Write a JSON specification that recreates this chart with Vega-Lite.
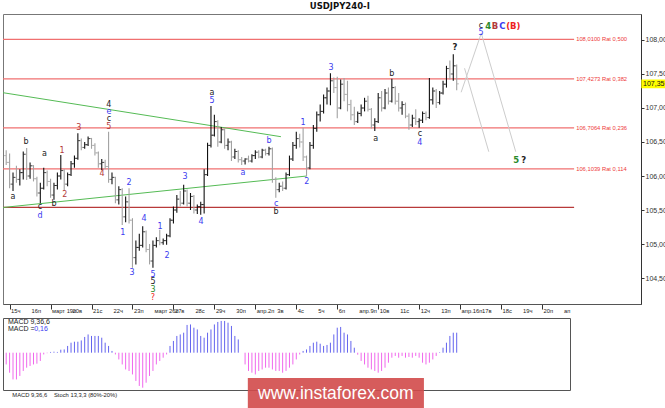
{
"$schema": "https://vega.github.io/schema/vega-lite/v6.json",
"background": "white",
"padding": {"top": 2, "left": 0, "right": 0, "bottom": 0},
"title": {"text": "USDJPY240-I", "fontSize": 8.5, "font": "DejaVu Sans", "fontWeight": "bold", "anchor": "middle", "offset": 3, "color": "#111"},
"config": {"font": "DejaVu Sans"},
"spacing": 3,
"datasets": {
"days": [
{"i":0,"d":"15ч"},{"i":6,"d":"16п"},{"i":12,"d":"март 19п"},{"i":18,"d":"20в"},{"i":24,"d":"21с"},{"i":30,"d":"22ч"},{"i":36,"d":"23п"},{"i":42,"d":"март 26п"},{"i":48,"d":"27в"},{"i":54,"d":"28с"},{"i":60,"d":"29ч"},{"i":66,"d":"30п"},{"i":72,"d":"апр.2п"},{"i":78,"d":"3в"},{"i":84,"d":"4с"},{"i":90,"d":"5ч"},{"i":96,"d":"6п"},{"i":102,"d":"апр.9п"},{"i":108,"d":"10в"},{"i":114,"d":"11с"},{"i":120,"d":"12ч"},{"i":126,"d":"13п"},{"i":132,"d":"апр.16п"},{"i":138,"d":"17в"},{"i":144,"d":"18с"},{"i":150,"d":"19ч"},{"i":156,"d":"20п"},{"i":162,"d":"ап"}
],
"bars": [
{"i":-1,"o":106.30,"h":106.38,"l":106.16,"c":106.20,"m":-0.094},
{"i":0,"o":106.20,"h":106.33,"l":105.82,"c":105.88,"m":-0.16},
{"i":1,"o":105.88,"h":106.05,"l":105.78,"c":105.98,"m":-0.214},
{"i":2,"o":105.98,"h":106.15,"l":105.90,"c":105.95,"m":-0.214},
{"i":3,"o":105.95,"h":106.10,"l":105.86,"c":106.05,"m":-0.186},
{"i":4,"o":106.05,"h":106.36,"l":105.95,"c":106.32,"m":-0.146},
{"i":5,"o":106.32,"h":106.41,"l":105.94,"c":106.00,"m":-0.12},
{"i":6,"o":106.00,"h":106.20,"l":105.96,"c":106.15,"m":-0.106},
{"i":7,"o":106.15,"h":106.16,"l":105.92,"c":105.96,"m":-0.094},
{"i":8,"o":105.96,"h":105.99,"l":105.70,"c":105.75,"m":-0.088},
{"i":9,"o":105.75,"h":105.90,"l":105.60,"c":105.82,"m":-0.066},
{"i":10,"o":105.82,"h":106.12,"l":105.80,"c":106.05,"m":-0.014},
{"i":11,"o":106.05,"h":106.08,"l":105.85,"c":105.92,"m":-0.004},
{"i":12,"o":105.92,"h":105.96,"l":105.68,"c":105.72,"m":0.006},
{"i":13,"o":105.72,"h":105.90,"l":105.65,"c":105.86,"m":0.008},
{"i":14,"o":105.86,"h":106.05,"l":105.80,"c":106.00,"m":0.006},
{"i":15,"o":106.00,"h":106.31,"l":105.95,"c":106.08,"m":0.024},
{"i":16,"o":106.08,"h":106.10,"l":105.79,"c":105.88,"m":0.026},
{"i":17,"o":105.88,"h":106.05,"l":105.85,"c":106.02,"m":0.054},
{"i":18,"o":106.02,"h":106.22,"l":106.00,"c":106.18,"m":0.08},
{"i":19,"o":106.18,"h":106.30,"l":106.12,"c":106.26,"m":0.088},
{"i":20,"o":106.26,"h":106.63,"l":106.24,"c":106.52,"m":0.088},
{"i":21,"o":106.52,"h":106.55,"l":106.38,"c":106.42,"m":0.098},
{"i":22,"o":106.42,"h":106.50,"l":106.40,"c":106.46,"m":0.126},
{"i":23,"o":106.46,"h":106.58,"l":106.44,"c":106.55,"m":0.146},
{"i":24,"o":106.55,"h":106.56,"l":106.40,"c":106.45,"m":0.134},
{"i":25,"o":106.45,"h":106.48,"l":106.30,"c":106.34,"m":0.134},
{"i":26,"o":106.34,"h":106.36,"l":106.12,"c":106.18,"m":0.134},
{"i":27,"o":106.18,"h":106.25,"l":106.09,"c":106.20,"m":0.12},
{"i":28,"o":106.20,"h":106.24,"l":106.10,"c":106.14,"m":0.08},
{"i":29,"o":106.14,"h":106.65,"l":105.90,"c":105.95,"m":0.054},
{"i":30,"o":105.95,"h":106.05,"l":105.88,"c":105.98,"m":0.014},
{"i":31,"o":105.98,"h":105.99,"l":105.60,"c":105.65,"m":-0.014},
{"i":32,"o":105.65,"h":105.85,"l":105.58,"c":105.80,"m":-0.054},
{"i":33,"o":105.80,"h":105.82,"l":105.28,"c":105.40,"m":-0.094},
{"i":34,"o":105.40,"h":105.70,"l":105.32,"c":105.62,"m":-0.134},
{"i":35,"o":105.62,"h":105.82,"l":105.30,"c":105.35,"m":-0.146},
{"i":36,"o":105.35,"h":105.38,"l":104.65,"c":104.80,"m":-0.174},
{"i":37,"o":104.80,"h":105.05,"l":104.70,"c":104.95,"m":-0.226},
{"i":38,"o":104.95,"h":105.15,"l":104.90,"c":104.98,"m":-0.266},
{"i":39,"o":104.98,"h":105.26,"l":104.95,"c":105.18,"m":-0.28},
{"i":40,"o":105.18,"h":105.20,"l":104.88,"c":104.92,"m":-0.24},
{"i":41,"o":104.92,"h":105.00,"l":104.70,"c":104.75,"m":-0.186},
{"i":42,"o":104.75,"h":105.05,"l":104.65,"c":104.98,"m":-0.146},
{"i":43,"o":104.98,"h":105.10,"l":104.95,"c":105.05,"m":-0.094},
{"i":44,"o":105.05,"h":105.21,"l":104.98,"c":105.02,"m":-0.066},
{"i":45,"o":105.02,"h":105.08,"l":104.99,"c":105.05,"m":-0.04},
{"i":46,"o":105.05,"h":105.15,"l":104.99,"c":105.12,"m":-0.014},
{"i":47,"o":105.12,"h":105.38,"l":105.10,"c":105.35,"m":0.054},
{"i":48,"o":105.35,"h":105.55,"l":105.30,"c":105.50,"m":0.094},
{"i":49,"o":105.50,"h":105.72,"l":105.46,"c":105.66,"m":0.134},
{"i":50,"o":105.66,"h":105.78,"l":105.55,"c":105.60,"m":0.146},
{"i":51,"o":105.60,"h":105.87,"l":105.58,"c":105.78,"m":0.16},
{"i":52,"o":105.78,"h":105.80,"l":105.55,"c":105.60,"m":0.222},
{"i":53,"o":105.60,"h":105.75,"l":105.50,"c":105.70,"m":0.226},
{"i":54,"o":105.70,"h":105.72,"l":105.45,"c":105.50,"m":0.2},
{"i":55,"o":105.50,"h":105.58,"l":105.44,"c":105.55,"m":0.186},
{"i":56,"o":105.55,"h":105.62,"l":105.43,"c":105.58,"m":0.134},
{"i":57,"o":105.58,"h":106.10,"l":105.45,"c":106.02,"m":0.12},
{"i":58,"o":106.02,"h":106.49,"l":106.00,"c":106.45,"m":0.16},
{"i":59,"o":106.45,"h":107.03,"l":106.42,"c":106.60,"m":0.186},
{"i":60,"o":106.60,"h":106.90,"l":106.58,"c":106.80,"m":0.226},
{"i":61,"o":106.80,"h":106.82,"l":106.43,"c":106.50,"m":0.246},
{"i":62,"o":106.50,"h":106.72,"l":106.48,"c":106.68,"m":0.254},
{"i":63,"o":106.68,"h":106.70,"l":106.40,"c":106.45,"m":0.254},
{"i":64,"o":106.45,"h":106.55,"l":106.38,"c":106.50,"m":0.24},
{"i":65,"o":106.50,"h":106.52,"l":106.22,"c":106.28,"m":0.214},
{"i":66,"o":106.28,"h":106.40,"l":106.25,"c":106.36,"m":0.134},
{"i":67,"o":106.36,"h":106.38,"l":106.20,"c":106.24,"m":0.106},
{"i":68,"o":106.24,"h":106.28,"l":106.16,"c":106.22,"m":0.0},
{"i":69,"o":106.22,"h":106.26,"l":106.17,"c":106.25,"m":-0.094},
{"i":70,"o":106.25,"h":106.30,"l":106.20,"c":106.22,"m":-0.146},
{"i":71,"o":106.22,"h":106.32,"l":106.20,"c":106.30,"m":-0.16},
{"i":72,"o":106.30,"h":106.38,"l":106.25,"c":106.35,"m":-0.174},
{"i":73,"o":106.35,"h":106.38,"l":106.26,"c":106.28,"m":-0.146},
{"i":74,"o":106.28,"h":106.40,"l":106.26,"c":106.38,"m":-0.134},
{"i":75,"o":106.38,"h":106.40,"l":106.30,"c":106.33,"m":-0.12},
{"i":76,"o":106.33,"h":106.43,"l":106.30,"c":106.40,"m":-0.12},
{"i":77,"o":106.40,"h":106.42,"l":105.90,"c":105.95,"m":-0.134},
{"i":78,"o":105.95,"h":105.98,"l":105.68,"c":105.80,"m":-0.146},
{"i":79,"o":105.80,"h":105.90,"l":105.76,"c":105.85,"m":-0.146},
{"i":80,"o":105.85,"h":105.92,"l":105.78,"c":105.82,"m":-0.16},
{"i":81,"o":105.82,"h":106.05,"l":105.80,"c":106.02,"m":-0.146},
{"i":82,"o":106.02,"h":106.30,"l":106.00,"c":106.25,"m":-0.12},
{"i":83,"o":106.25,"h":106.50,"l":106.22,"c":106.45,"m":-0.094},
{"i":84,"o":106.45,"h":106.65,"l":106.40,"c":106.55,"m":-0.054},
{"i":85,"o":106.55,"h":106.62,"l":106.42,"c":106.50,"m":-0.014},
{"i":86,"o":106.50,"h":106.71,"l":106.22,"c":106.28,"m":0.014},
{"i":87,"o":106.28,"h":106.30,"l":106.00,"c":106.12,"m":0.026},
{"i":88,"o":106.12,"h":106.50,"l":106.10,"c":106.45,"m":0.054},
{"i":89,"o":106.45,"h":106.75,"l":106.40,"c":106.70,"m":0.08},
{"i":90,"o":106.70,"h":106.95,"l":106.65,"c":106.90,"m":0.088},
{"i":91,"o":106.90,"h":107.05,"l":106.80,"c":106.95,"m":0.072},
{"i":92,"o":106.95,"h":107.20,"l":106.92,"c":107.15,"m":0.054},
{"i":93,"o":107.15,"h":107.30,"l":107.05,"c":107.25,"m":0.062},
{"i":94,"o":107.25,"h":107.51,"l":107.04,"c":107.40,"m":0.08},
{"i":95,"o":107.40,"h":107.45,"l":107.22,"c":107.30,"m":0.146},
{"i":96,"o":107.30,"h":107.46,"l":106.85,"c":107.00,"m":0.2},
{"i":97,"o":107.00,"h":107.42,"l":106.98,"c":107.35,"m":0.206},
{"i":98,"o":107.35,"h":107.44,"l":107.10,"c":107.20,"m":0.16},
{"i":99,"o":107.20,"h":107.40,"l":106.95,"c":107.05,"m":0.146},
{"i":100,"o":107.05,"h":107.12,"l":106.82,"c":106.90,"m":0.094},
{"i":101,"o":106.90,"h":107.02,"l":106.75,"c":106.80,"m":0.04},
{"i":102,"o":106.80,"h":106.95,"l":106.78,"c":106.92,"m":-0.016},
{"i":103,"o":106.92,"h":107.05,"l":106.88,"c":107.00,"m":-0.066},
{"i":104,"o":107.00,"h":107.15,"l":106.95,"c":107.10,"m":-0.094},
{"i":105,"o":107.10,"h":107.18,"l":106.95,"c":106.98,"m":-0.12},
{"i":106,"o":106.98,"h":107.00,"l":106.70,"c":106.75,"m":-0.134},
{"i":107,"o":106.75,"h":106.85,"l":106.66,"c":106.80,"m":-0.146},
{"i":108,"o":106.80,"h":107.22,"l":106.78,"c":107.15,"m":-0.16},
{"i":109,"o":107.15,"h":107.25,"l":106.95,"c":107.00,"m":-0.146},
{"i":110,"o":107.00,"h":107.28,"l":106.98,"c":107.22,"m":-0.12},
{"i":111,"o":107.22,"h":107.30,"l":107.05,"c":107.10,"m":-0.08},
{"i":112,"o":107.10,"h":107.43,"l":107.08,"c":107.30,"m":-0.04},
{"i":113,"o":107.30,"h":107.32,"l":107.05,"c":107.10,"m":-0.026},
{"i":114,"o":107.10,"h":107.22,"l":106.95,"c":107.00,"m":-0.04},
{"i":115,"o":107.00,"h":107.10,"l":106.90,"c":107.05,"m":-0.026},
{"i":116,"o":107.05,"h":107.08,"l":106.85,"c":106.88,"m":-0.04},
{"i":117,"o":106.88,"h":106.92,"l":106.68,"c":106.75,"m":-0.034},
{"i":118,"o":106.75,"h":106.90,"l":106.72,"c":106.85,"m":-0.04},
{"i":119,"o":106.85,"h":106.98,"l":106.75,"c":106.80,"m":-0.026},
{"i":120,"o":106.80,"h":106.85,"l":106.71,"c":106.82,"m":-0.04},
{"i":121,"o":106.82,"h":106.95,"l":106.78,"c":106.92,"m":-0.08},
{"i":122,"o":106.92,"h":106.95,"l":106.82,"c":106.86,"m":-0.094},
{"i":123,"o":106.86,"h":107.44,"l":106.84,"c":107.12,"m":-0.08},
{"i":124,"o":107.12,"h":107.30,"l":107.05,"c":107.25,"m":-0.054},
{"i":125,"o":107.25,"h":107.28,"l":107.00,"c":107.08,"m":-0.026},
{"i":126,"o":107.08,"h":107.25,"l":107.05,"c":107.22,"m":0.004},
{"i":127,"o":107.22,"h":107.40,"l":107.20,"c":107.35,"m":0.04},
{"i":128,"o":107.35,"h":107.62,"l":107.30,"c":107.58,"m":0.08},
{"i":129,"o":107.58,"h":107.70,"l":107.42,"c":107.50,"m":0.134},
{"i":130,"o":107.50,"h":107.79,"l":107.40,"c":107.62,"m":0.16},
{"i":131,"o":107.62,"h":107.64,"l":107.26,"c":107.355,"m":0.16}
],
"levels": [
{"level":108.01,"label":"108,0100 Rat 0,500","kind":"fib"},
{"level":107.4273,"label":"107,4273 Rat 0,382","kind":"fib"},
{"level":106.7064,"label":"106,7064 Rat 0,236","kind":"fib"},
{"level":106.1039,"label":"106,1039 Rat 0,114","kind":"fib"},
{"level":105.54,"label":"","kind":"base"}
],
"lines": [
{"id":"g1","kind":"trend","i":-1.934,"p":107.225},
{"id":"g1","kind":"trend","i":79.5,"p":106.578},
{"id":"g2","kind":"trend","i":-1.934,"p":105.537},
{"id":"g2","kind":"trend","i":87.1,"p":106.0},
{"id":"f1","kind":"forecast","i":132.3,"p":107.231},
{"id":"f1","kind":"forecast","i":138.2,"p":108.099},
{"id":"f1","kind":"forecast","i":148.3,"p":106.357},
{"id":"f2","kind":"forecast","i":133.3,"p":107.584},
{"id":"f2","kind":"forecast","i":140.4,"p":106.357}
],
"waves": [
{"i":1.0,"p":105.691,"t":"a","deg":"minute","note":"count"},
{"i":4.8,"p":106.50,"t":"b","deg":"minute","note":"count"},
{"i":8.9,"p":105.544,"t":"c","deg":"minute","note":"count"},
{"i":8.9,"p":105.412,"t":"d","deg":"minuette","note":"count"},
{"i":10.2,"p":106.324,"t":"a","deg":"minute","note":"count"},
{"i":13.0,"p":105.588,"t":"b","deg":"minute","note":"count"},
{"i":15.35,"p":106.368,"t":"1","deg":"minor","note":"count"},
{"i":16.2,"p":105.72,"t":"2","deg":"minor","note":"count"},
{"i":20.3,"p":106.706,"t":"3","deg":"minor","note":"count"},
{"i":27.1,"p":106.03,"t":"4","deg":"minor","note":"count"},
{"i":29.1,"p":106.72,"t":"5","deg":"minor","note":"count"},
{"i":29.1,"p":106.838,"t":"c","deg":"minute","note":"count"},
{"i":29.1,"p":106.934,"t":"e","deg":"minuette","note":"count"},
{"i":29.1,"p":107.051,"t":"4","deg":"minute","note":"count"},
{"i":33.2,"p":105.162,"t":"1","deg":"minuette","note":"count"},
{"i":35.0,"p":105.897,"t":"2","deg":"minuette","note":"count"},
{"i":35.9,"p":104.574,"t":"3","deg":"minuette","note":"count"},
{"i":39.4,"p":105.368,"t":"4","deg":"minuette","note":"count"},
{"i":42.0,"p":104.544,"t":"5","deg":"minuette","note":"count"},
{"i":42.0,"p":104.441,"t":"5","deg":"minute","note":"count"},
{"i":42.0,"p":104.324,"t":"3","deg":"intermediate","note":"count"},
{"i":42.0,"p":104.206,"t":"?","deg":"primary","note":"count"},
{"i":44.1,"p":105.25,"t":"1","deg":"minuette","note":"count"},
{"i":46.1,"p":104.824,"t":"2","deg":"minuette","note":"count"},
{"i":51.4,"p":105.985,"t":"3","deg":"minuette","note":"count"},
{"i":56.1,"p":105.324,"t":"4","deg":"minuette","note":"count"},
{"i":59.3,"p":107.221,"t":"a","deg":"minute","note":"count"},
{"i":59.3,"p":107.103,"t":"5","deg":"minuette","note":"count"},
{"i":68.4,"p":106.044,"t":"a","deg":"minuette","note":"count"},
{"i":76.0,"p":106.515,"t":"b","deg":"minuette","note":"count"},
{"i":78.1,"p":105.588,"t":"c","deg":"minuette","note":"count"},
{"i":78.1,"p":105.471,"t":"b","deg":"minute","note":"count"},
{"i":85.96,"p":106.779,"t":"1","deg":"minuette","note":"count"},
{"i":87.1,"p":105.912,"t":"2","deg":"minuette","note":"count"},
{"i":94.2,"p":107.588,"t":"3","deg":"minuette","note":"count"},
{"i":107.3,"p":106.544,"t":"a","deg":"minute","note":"count"},
{"i":112.0,"p":107.50,"t":"b","deg":"minute","note":"count"},
{"i":120.2,"p":106.618,"t":"c","deg":"minute","note":"count"},
{"i":120.2,"p":106.485,"t":"4","deg":"minuette","note":"count"},
{"i":130.5,"p":107.897,"t":"?","deg":"minute","note":"target"},
{"i":138.1,"p":108.206,"t":"c","deg":"minute","note":"count"},
{"i":140.2,"p":108.206,"t":"4","deg":"intermediate","note":"target"},
{"i":142.2,"p":108.206,"t":"B","deg":"minor","note":"target"},
{"i":144.4,"p":108.206,"t":"C","deg":"minuette","note":"target"},
{"i":147.6,"p":108.206,"t":"(B)","deg":"primary","note":"target"},
{"i":138.1,"p":108.103,"t":"5","deg":"minuette","note":"count"},
{"i":148.4,"p":106.228,"t":"5","deg":"intermediate","note":"target"},
{"i":150.6,"p":106.228,"t":"?","deg":"minute","note":"target"}
]
},
"vconcat": [
{
"width": 638,
"height": 290,
"view": {"stroke": "#777", "strokeWidth": 1},
"resolve": {"scale": {"color": "independent"}},
"layer": [
{
"data": {"name": "levels"},
"mark": {"type": "rule", "strokeWidth": 1.3},
"encoding": {
"y": {"field": "level", "type": "quantitative", "title": null, "scale": {"domain": [104.118, 108.382], "nice": false, "zero": false},
"axis": {"orient": "right", "values": [104.5, 105, 105.5, 106, 106.5, 107, 107.5, 108], "labelExpr": "replace(format(datum.value, '.3f'), '.', ',')", "tickSize": 3, "labelPadding": 1, "labelFont": "Liberation Sans", "labelFontSize": 7, "labelColor": "#333", "domainColor": "#333", "tickColor": "#333", "grid": false, "labelBaseline": "middle", "labelOverlap": false, "labelBound": false}},
"x": {"datum": -1.934, "type": "quantitative", "scale": {"domain": [-1.934, 185.0], "nice": false, "zero": false},
"axis": {"values": [0,6,12,18,24,30,36,42,48,54,60,66,72,78,84,90,96,102,108,114,120,126,132,138,144,150,156,162], "labels": false, "tickSize": 5, "tickColor": "#333", "domainColor": "#555", "grid": false, "title": null}},
"x2": {"datum": 165.4},
"color": {"field": "kind", "type": "nominal", "scale": {"domain": ["fib", "base"], "range": ["#f07070", "#b83a3a"]}, "legend": null}
}
},
{
"data": {"name": "levels"},
"transform": [{"filter": "datum.label != ''"}],
"mark": {"type": "text", "align": "left", "baseline": "middle", "fontSize": 5.8, "font": "Liberation Sans", "color": "#ee3a3a"},
"encoding": {
"y": {"field": "level", "type": "quantitative", "title": null},
"x": {"datum": 166.0},
"text": {"field": "label"}
}
},
{
"data": {"name": "days"},
"mark": {"type": "text", "align": "left", "baseline": "middle", "fontSize": 5.8, "font": "Liberation Sans", "dx": 1.5, "color": "#222"},
"encoding": {
"x": {"field": "i", "type": "quantitative", "title": null},
"y": {"datum": 104.02},
"text": {"field": "d"}
}
},
{
"data": {"name": "lines"},
"mark": {"type": "line", "strokeWidth": 1},
"encoding": {
"x": {"field": "i", "type": "quantitative", "title": null},
"y": {"field": "p", "type": "quantitative", "title": null},
"detail": {"field": "id"},
"color": {"field": "kind", "type": "nominal", "scale": {"domain": ["trend", "forecast"], "range": ["#55bb55", "#cccccc"]}, "legend": null}
}
},
{
"data": {"name": "bars"},
"mark": {"type": "rule", "strokeWidth": 1.1},
"encoding": {
"x": {"field": "i", "type": "quantitative", "title": null},
"y": {"field": "l", "type": "quantitative", "title": null},
"y2": {"field": "h"},
"color": {"condition": {"test": "datum.c >= datum.o", "value": "#111111"}, "value": "#a2a2a2"}
}
},
{
"data": {"name": "bars"},
"mark": {"type": "tick", "orient": "horizontal", "size": 2, "thickness": 1, "xOffset": -1.2},
"encoding": {
"x": {"field": "i", "type": "quantitative", "title": null},
"y": {"field": "o", "type": "quantitative", "title": null},
"color": {"condition": {"test": "datum.c >= datum.o", "value": "#111111"}, "value": "#a2a2a2"}
}
},
{
"data": {"name": "bars"},
"mark": {"type": "tick", "orient": "horizontal", "size": 2, "thickness": 1, "xOffset": 1.2},
"encoding": {
"x": {"field": "i", "type": "quantitative", "title": null},
"y": {"field": "c", "type": "quantitative", "title": null},
"color": {"condition": {"test": "datum.c >= datum.o", "value": "#111111"}, "value": "#a2a2a2"}
}
},
{
"data": {"name": "waves"},
"transform": [{"filter": "datum.note == 'count'"}],
"mark": {"type": "text", "align": "center", "baseline": "middle", "fontSize": 8},
"encoding": {
"x": {"field": "i", "type": "quantitative", "title": null},
"y": {"field": "p", "type": "quantitative", "title": null},
"text": {"field": "t"},
"color": {"field": "deg", "type": "nominal", "scale": {"domain": ["minuette", "minute", "minor", "intermediate", "primary"], "range": ["#3b3bf0", "#222222", "#b33a3a", "#2a8a2a", "#ee2222"]}, "legend": null}
}
},
{
"data": {"name": "waves"},
"transform": [{"filter": "datum.note == 'target'"}],
"mark": {"type": "text", "align": "center", "baseline": "middle", "fontSize": 8.5, "fontWeight": "bold"},
"encoding": {
"x": {"field": "i", "type": "quantitative", "title": null},
"y": {"field": "p", "type": "quantitative", "title": null},
"text": {"field": "t"},
"color": {"field": "deg", "type": "nominal", "scale": {"domain": ["minuette", "minute", "minor", "intermediate", "primary"], "range": ["#3b3bf0", "#222222", "#b33a3a", "#2a8a2a", "#ee2222"]}, "legend": null}
}
},
{
"data": {"values": [{"price": 107.355}]},
"mark": {"type": "rect", "color": "#ffff00"},
"encoding": {
"x": {"datum": 185.1},
"x2": {"datum": 196},
"y": {"datum": 107.42},
"y2": {"datum": 107.29}
}
},
{
"data": {"values": [{"price": 107.355}]},
"mark": {"type": "text", "align": "left", "baseline": "middle", "fontSize": 7, "font": "Liberation Sans", "color": "#111"},
"encoding": {
"x": {"datum": 185.6},
"y": {"field": "price", "type": "quantitative", "title": null},
"text": {"value": "107,355"}
}
}
]
},
{
"width": 567,
"height": 72,
"view": {"stroke": "#555", "strokeWidth": 1},
"layer": [
{
"data": {"name": "bars"},
"mark": {"type": "rule", "strokeWidth": 1},
"encoding": {
"x": {"field": "i", "type": "quantitative", "axis": null, "scale": {"domain": [-1.934, 164.2], "nice": false, "zero": false}},
"y": {"field": "m", "type": "quantitative", "axis": null, "scale": {"domain": [-0.2984, 0.2776], "nice": false, "zero": false}},
"y2": {"datum": 0},
"color": {"condition": {"test": "datum.m >= 0", "value": "#6464ee"}, "value": "#f068ec"}
}
},
{
"data": {"values": [{"label": "MACD 9,36,6"}]},
"mark": {"type": "text", "align": "left", "baseline": "middle", "fontSize": 7, "font": "Liberation Sans", "color": "#222"},
"encoding": {"x": {"datum": -0.5}, "y": {"datum": 0.2456}, "text": {"field": "label"}}
},
{
"data": {"values": [{"label": "MACD ="}]},
"mark": {"type": "text", "align": "left", "baseline": "middle", "fontSize": 7, "font": "Liberation Sans", "color": "#222"},
"encoding": {"x": {"datum": -0.5}, "y": {"datum": 0.19}, "text": {"field": "label"}}
},
{
"data": {"values": [{"label": "0,16"}]},
"mark": {"type": "text", "align": "left", "baseline": "middle", "fontSize": 7, "font": "Liberation Sans", "color": "#3b3bf0"},
"encoding": {"x": {"datum": 7.2}, "y": {"datum": 0.19}, "text": {"field": "label"}}
},
{
"data": {"values": [{"label": "MACD 9,36,6"}]},
"mark": {"type": "text", "align": "left", "baseline": "middle", "fontSize": 5.8, "font": "Liberation Sans", "color": "#222"},
"encoding": {"x": {"datum": 0.8}, "y": {"datum": -0.3384}, "text": {"field": "label"}}
},
{
"data": {"values": [{"label": "Stoch 13,3,3 (80%-20%)"}]},
"mark": {"type": "text", "align": "left", "baseline": "middle", "fontSize": 5.8, "font": "Liberation Sans", "color": "#222"},
"encoding": {"x": {"datum": 13.0}, "y": {"datum": -0.3384}, "text": {"field": "label"}}
},
{
"data": {"values": [{"label": "www.instaforex.com"}]},
"mark": {"type": "rect", "color": "#d24a4a", "opacity": 0.9},
"encoding": {"x": {"datum": 69.8}, "x2": {"datum": 121.4}, "y": {"datum": -0.2024}, "y2": {"datum": -0.4504}}
},
{
"data": {"values": [{"label": "www.instaforex.com"}]},
"mark": {"type": "text", "align": "center", "baseline": "middle", "fontSize": 17.5, "font": "Liberation Sans", "color": "#ffffff"},
"encoding": {"x": {"datum": 95.6}, "y": {"datum": -0.3304}, "text": {"field": "label"}}
}
]
}
]
}
